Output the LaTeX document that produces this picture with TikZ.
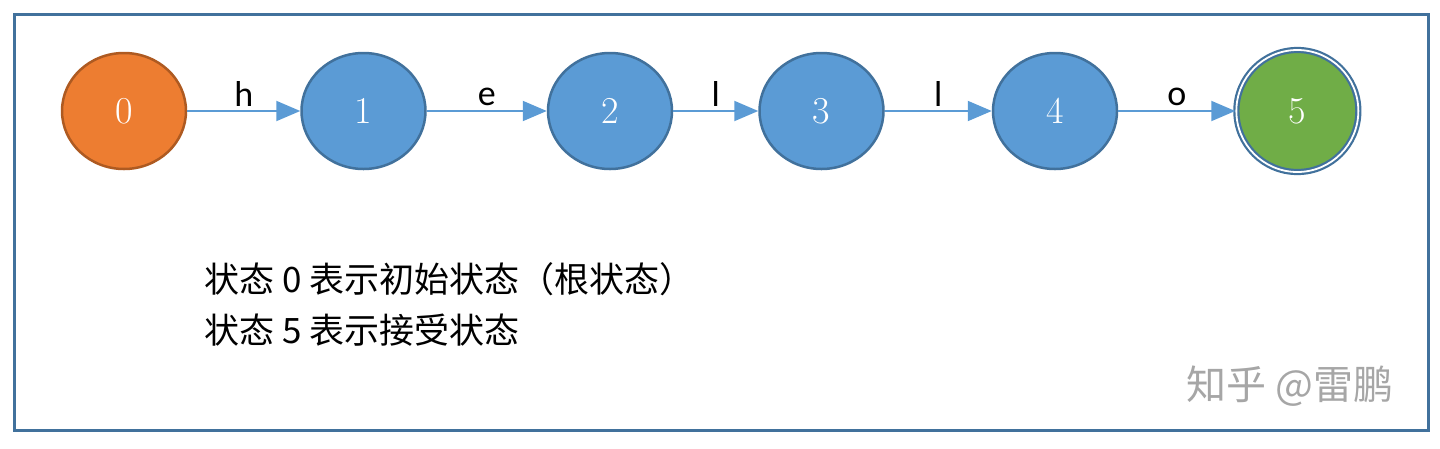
\documentclass[tikz,border=0pt]{standalone}
\usepackage{fontspec}
\newfontfamily\labelfont{Carlito}
\newfontfamily\cjk{Noto Sans CJK SC}
\usetikzlibrary{arrows.meta, positioning, shapes.geometric}
\definecolor{stateblue}{HTML}{5B9BD5}
\definecolor{lineblue}{HTML}{41719C}
\definecolor{startorange}{HTML}{ED7D31}
\definecolor{startline}{HTML}{AE5A21}
\definecolor{acceptgreen}{HTML}{70AD47}

\begin{document}
\begin{tikzpicture}[
        x=1pt, y=-1pt,
        state/.style={ellipse, draw=lineblue, fill=stateblue, line width=2.5pt, inner sep=0pt,
          minimum width=124pt, minimum height=116pt, text=white, font=\fontsize{38}{38}\selectfont},
        start/.style={state, draw=startline, fill=startorange},
        accept/.style={state, fill=acceptgreen, draw=lineblue, double=white, double distance=1.8pt,
          line width=2.2pt, minimum width=122pt, minimum height=122pt},
        arr/.style={-{Triangle[length=24pt, width=20pt]}, draw=stateblue, line width=2pt},
        lbl/.style={above, inner sep=4pt, font=\labelfont\fontsize{36}{36}\selectfont}
      ]
      \useasboundingbox (0,0) rectangle (1440,448);
      \draw[lineblue, line width=3pt] (14,14) rectangle (1428,430);
      \node[start] (s0) at (124,111) {0};
      \node[state, right=113pt of s0]  (s1) {1};
      \node[state, right=120pt of s1]  (s2) {2};
      \node[state, right=85pt of s2]   (s3) {3};
      \node[state, right=107pt of s3]  (s4) {4};
      \node[accept, right=117pt of s4] (s5) {5};
      \draw[arr] (s0) -- node[lbl] {h} (s1);
      \draw[arr] (s1) -- node[lbl] {e} (s2);
      \draw[arr] (s2) -- node[lbl] {l} (s3);
      \draw[arr] (s3) -- node[lbl] {l} (s4);
      \draw[arr] (s4) -- node[lbl] {o} (s5);
      % legend
      \node[anchor=north west, align=left, inner sep=0pt, font=\cjk\fontsize{35}{51}\selectfont] (note) at (204,262)
        {状态 0 表示初始状态（根状态）\\状态 5 表示接受状态};
      \node[text=black!35, font=\cjk\fontsize{40}{40}\selectfont] (mark) at (1290,386) {知乎 @雷鹏};
    \end{tikzpicture}
\end{document}
